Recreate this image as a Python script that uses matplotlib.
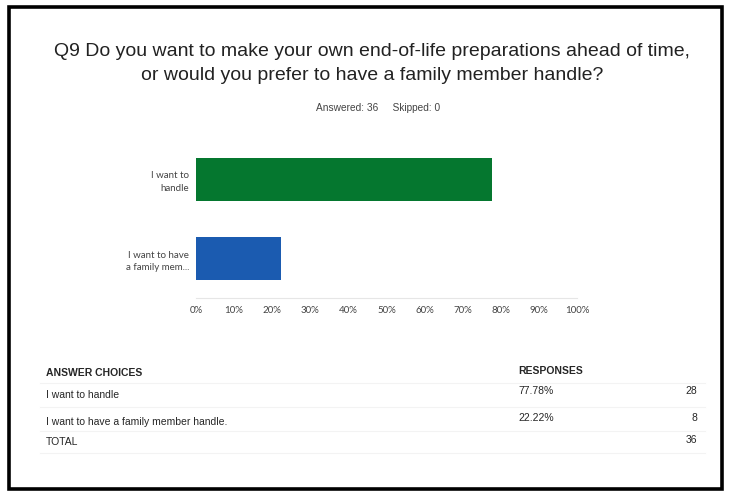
import numpy as np
import matplotlib.pyplot as plt
from matplotlib.patches import Rectangle

# survey results
choices = ["I want to handle", "I want to have a family member handle."]
bar_labels = ["I want to\nhandle", "I want to have\na family mem..."]
percents = [77.78, 22.22]
counts = [28, 8]
answered, skipped = 36, 0
bar_colors = ["#05772f", "#1b5bb0"]

W, H = 729, 495
fig = plt.figure(figsize=(W / 100, H / 100), dpi=100)
fig.patch.set_facecolor("white")

def fx(px):
    return px / W

def fy(py):
    return 1 - py / H

# black frame around the page
fig.patches.append(Rectangle((fx(9), fy(489)), fx(713), 482 / H, transform=fig.transFigure,
                             fill=False, edgecolor="black", linewidth=2.6))

fig.text(fx(372), fy(52), "Q9 Do you want to make your own end-of-life preparations ahead of time,",
         ha="center", va="center", fontsize=14, family="Liberation Sans", color="#222222")
fig.text(fx(372), fy(75), "or would you prefer to have a family member handle?",
         ha="center", va="center", fontsize=14, family="Liberation Sans", color="#222222")
fig.text(fx(378), fy(108), f"Answered: {answered}     Skipped: {skipped}",
         ha="center", va="center", fontsize=7.3, family="Liberation Sans", color="#444444")

# bar chart
ax = fig.add_axes([fx(196), fy(298), fx(577 - 196), (298 - 140) / H])
y = np.arange(len(percents))
ax.barh(y, percents, height=0.54, color=bar_colors)
ax.set_xlim(0, 100)
ax.set_ylim(1.5, -0.5)
ax.set_xticks(np.arange(0, 101, 10))
ax.set_xticklabels([f"{v}%" for v in range(0, 101, 10)], fontsize=7, family="Lato", color="#444444")
ax.set_yticks(y)
ax.set_yticklabels(bar_labels, fontsize=7, family="Lato", color="#444444", ha="right",
                   linespacing=1.5)
ax.tick_params(length=0, pad=6)
ax.tick_params(axis="y", pad=5)
for side in ["top", "right", "left"]:
    ax.spines[side].set_visible(False)
ax.spines["bottom"].set_color("#e6e6e6")

# response table
tf = dict(fontsize=7.5, family="Liberation Sans", color="#262626", va="center")
fig.text(fx(46), fy(373), "ANSWER CHOICES", weight="bold", **tf)
fig.text(fx(518), fy(371), "RESPONSES", weight="bold", **tf)
row_y = [395, 422]
for i, name in enumerate(choices):
    fig.text(fx(46), fy(row_y[i]), name, **tf)
    fig.text(fx(518), fy(row_y[i] - 4), f"{percents[i]:.2f}%", **tf)
    fig.text(fx(697), fy(row_y[i] - 4), str(counts[i]), ha="right", **tf)
fig.text(fx(46), fy(442), "TOTAL", **tf)
fig.text(fx(697), fy(440), str(sum(counts)), ha="right", **tf)

for ly in [383, 407, 431, 453]:
    fig.add_artist(plt.Line2D([fx(40), fx(705)], [fy(ly), fy(ly)], color="#f3f3f3", lw=0.8))

fig.savefig("out.png", dpi=100)
